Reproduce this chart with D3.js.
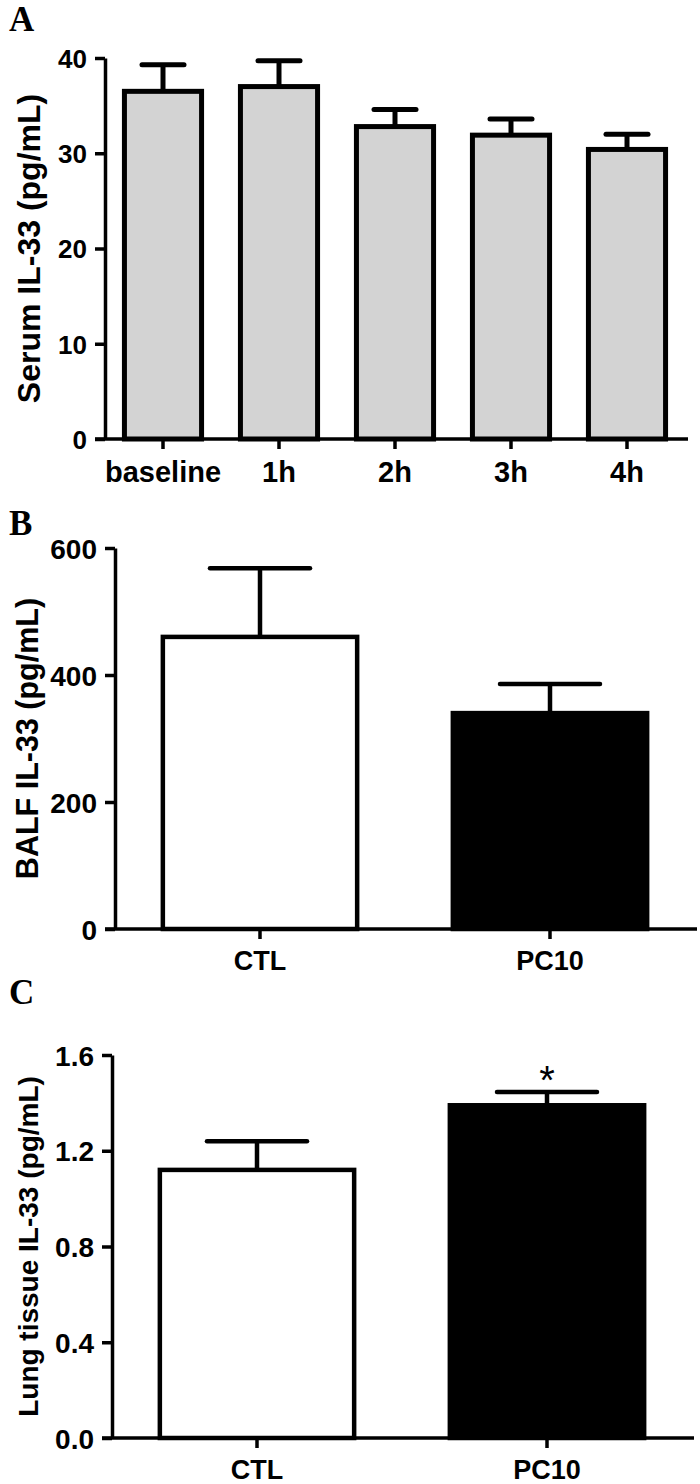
<!DOCTYPE html>
<html>
<head>
<meta charset="utf-8">
<script src="https://cdn.jsdelivr.net/npm/d3@7"></script>
<style>
  body { margin: 0; background: #fff; }
  svg text { font-family: "Liberation Sans", Arial, sans-serif; font-weight: bold; }
</style>
</head>
<body>
<div id="chart"></div>
<script>
// Panel A: serum IL-33 over time
const timeLabels = ["baseline", "1h", "2h", "3h", "4h"];
const serumMean = [36.5, 37.0, 32.8, 31.9, 30.4];
const serumSem = [2.8, 2.7, 1.8, 1.7, 1.6];
const serumTicks = [0, 10, 20, 30, 40];

// Panels B and C: CTL vs PC10
const groupLabels = ["CTL", "PC10"];
const groupFill = ["#ffffff", "#000000"];
const balfMean = [460, 340];
const balfSem = [108, 46];
const balfTicks = [0, 200, 400, 600];
const lungMean = [1.12, 1.39];
const lungSem = [0.12, 0.055];
const lungTicks = [0, 0.4, 0.8, 1.2, 1.6];
const lungStars = ["", "*"];

const svg = d3.select("#chart").append("svg")
    .attr("width", 700)
    .attr("height", 1484);

// Panel layouts (pixels)
const panels = [
    {
        letter: "A", letterY: 31,
        labels: timeLabels, mean: serumMean, sem: serumSem, ticks: serumTicks,
        fills: timeLabels.map(() => "#d3d3d3"), stars: timeLabels.map(() => ""),
        fmt: d3.format("d"), yLabel: "Serum IL-33 (pg/mL)",
        axisX: 105, top: 58, bottom: 439, xEnd: 688, xRange: [105, 685],
        padding: 0.335, capW: 42, stroke: 5,
        tickSize: 26, xLabelSize: 29, yLabelSize: 32, yLabelX: 40
    },
    {
        letter: "B", letterY: 535,
        labels: groupLabels, mean: balfMean, sem: balfSem, ticks: balfTicks,
        fills: groupFill, stars: ["", ""],
        fmt: d3.format("d"), yLabel: "BALF IL-33 (pg/mL)",
        axisX: 115, top: 548, bottom: 929, xEnd: 697, xRange: [115, 695],
        padding: 0.33, capW: 100, stroke: 4.5,
        tickSize: 28, xLabelSize: 27, yLabelSize: 30.5, yLabelX: 38
    },
    {
        letter: "C", letterY: 1004,
        labels: groupLabels, mean: lungMean, sem: lungSem, ticks: lungTicks,
        fills: groupFill, stars: lungStars,
        fmt: d3.format(".1f"), yLabel: "Lung tissue IL-33 (pg/mL)",
        axisX: 112, top: 1055, bottom: 1438, xEnd: 694, xRange: [112, 692],
        padding: 0.33, capW: 100, stroke: 4.5,
        tickSize: 28, xLabelSize: 27, yLabelSize: 28, yLabelX: 38
    }
];

panels.forEach(p => drawPanel(p));

function drawPanel(p) {
    const g = svg.append("g");

    const y = d3.scaleLinear()
        .domain([0, d3.max(p.ticks)])
        .range([p.bottom, p.top]);

    const x = d3.scaleBand()
        .domain(p.labels)
        .range(p.xRange)
        .paddingInner(p.padding)
        .paddingOuter(p.padding / 2);

    // panel letter
    svg.append("text")
        .attr("x", 9)
        .attr("y", p.letterY)
        .style("font-family", "'Liberation Serif', 'Times New Roman', serif")
        .style("font-size", "35px")
        .text(p.letter);

    // bars
    g.selectAll("rect.bar")
        .data(p.labels)
        .enter()
        .append("rect")
        .attr("class", "bar")
        .attr("x", d => x(d))
        .attr("y", (d, i) => y(p.mean[i]))
        .attr("width", x.bandwidth())
        .attr("height", (d, i) => p.bottom - y(p.mean[i]))
        .attr("fill", (d, i) => p.fills[i])
        .attr("stroke", "#000")
        .attr("stroke-width", p.stroke);

    // error bars (upper only)
    const err = g.selectAll("g.err")
        .data(p.labels)
        .enter()
        .append("g")
        .attr("class", "err");

    err.append("line")
        .attr("x1", d => x(d) + x.bandwidth() / 2)
        .attr("x2", d => x(d) + x.bandwidth() / 2)
        .attr("y1", (d, i) => y(p.mean[i]))
        .attr("y2", (d, i) => y(p.mean[i] + p.sem[i]))
        .attr("stroke", "#000")
        .attr("stroke-width", p.stroke);

    err.append("line")
        .attr("x1", d => x(d) + x.bandwidth() / 2 - p.capW / 2)
        .attr("x2", d => x(d) + x.bandwidth() / 2 + p.capW / 2)
        .attr("y1", (d, i) => y(p.mean[i] + p.sem[i]))
        .attr("y2", (d, i) => y(p.mean[i] + p.sem[i]))
        .attr("stroke", "#000")
        .attr("stroke-width", p.stroke)
        .attr("stroke-linecap", "round");

    // significance marks
    err.append("text")
        .attr("x", d => x(d) + x.bandwidth() / 2)
        .attr("y", (d, i) => y(p.mean[i] + p.sem[i]) + 2)
        .attr("text-anchor", "middle")
        .style("font-size", "40px")
        .style("font-weight", "normal")
        .text((d, i) => p.stars[i]);

    // y axis
    const yAxis = g.append("g")
        .attr("transform", `translate(${p.axisX},0)`)
        .call(d3.axisLeft(y).tickValues(p.ticks).tickFormat(p.fmt).tickSize(10).tickPadding(8).tickSizeOuter(0));

    // x axis
    const xAxis = g.append("g")
        .attr("transform", `translate(0,${p.bottom})`)
        .call(d3.axisBottom(x).tickSize(10).tickPadding(12).tickSizeOuter(0));

    xAxis.select(".domain").attr("d", `M${p.axisX - 10},0H${p.xEnd}`);

    [yAxis, xAxis].forEach(a => {
        a.select(".domain").attr("stroke", "#000").attr("stroke-width", 3.5);
        a.selectAll(".tick line").attr("stroke", "#000").attr("stroke-width", 3.5);
        a.selectAll(".tick text").attr("fill", "#000");
    });
    yAxis.selectAll(".tick text").attr("dy", "0.36em").style("font-size", p.tickSize + "px");
    xAxis.selectAll(".tick text").attr("dy", "0.71em").style("font-size", p.xLabelSize + "px");

    // y axis title
    g.append("text")
        .attr("transform", `translate(${p.yLabelX},${(p.top + p.bottom) / 2}) rotate(-90)`)
        .attr("text-anchor", "middle")
        .style("font-size", p.yLabelSize + "px")
        .text(p.yLabel);
}
</script>
</body>
</html>
